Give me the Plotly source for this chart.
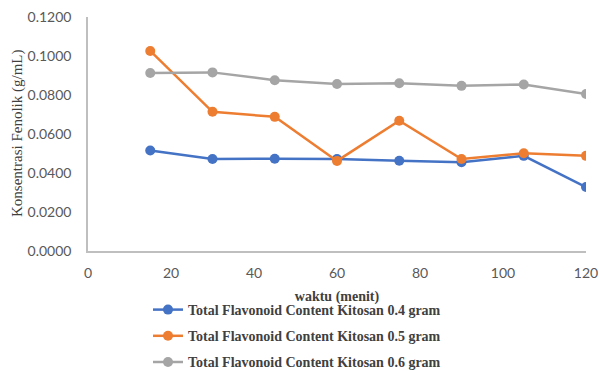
import plotly.graph_objects as go

# Sampling times (minutes)
waktu = [15, 30, 45, 60, 75, 90, 105, 120]

# Concentration series (g/mL)
kitosan_04 = [0.0515, 0.0472, 0.0473, 0.0472, 0.0463, 0.0455, 0.0488, 0.0328]
kitosan_05 = [0.1026, 0.0714, 0.0688, 0.0462, 0.0668, 0.0472, 0.0501, 0.0488]
kitosan_06 = [0.0913, 0.0916, 0.0876, 0.0856, 0.0860, 0.0847, 0.0854, 0.0805]

series_names = [
    "Total Flavonoid Content Kitosan 0.4 gram",
    "Total Flavonoid Content Kitosan 0.5 gram",
    "Total Flavonoid Content Kitosan 0.6 gram",
]
series_colors = ["#4472C4", "#ED7D31", "#A5A5A5"]
y_ticks = [0.0, 0.02, 0.04, 0.06, 0.08, 0.10, 0.12]
x_ticks = [0, 20, 40, 60, 80, 100, 120]
y_title = "Konsentrasi Fenolik (g/mL)"
x_title = "waktu (menit)"

fig = go.Figure()
for i, (name, values, color) in enumerate(zip(series_names, [kitosan_04, kitosan_05, kitosan_06], series_colors)):
    fig.add_trace(go.Scatter(
        x=waktu, y=values, name=name, mode="lines+markers",
        legendgroup=f"g{i}",
        line=dict(color=color, width=2.5),
        marker=dict(color=color, size=10),
    ))

tick_font = dict(family="Lato, Open Sans, sans-serif", size=14, color="#595959")
serif = "Liberation Serif, Times New Roman, serif"

W, H = 599, 371
L, R, T, B = 88, 13, 17, 120
fig.update_layout(
    width=W, height=H,
    margin=dict(l=L, r=R, t=T, b=B, autoexpand=False),
    paper_bgcolor="white", plot_bgcolor="white",
    showlegend=True,
    legend=dict(
        xref="container", yref="container",
        x=148 / W, y=1 - 294 / H, xanchor="left", yanchor="top",
        font=dict(family=serif, size=14, color="#404040", weight="bold"),
        bgcolor="rgba(0,0,0,0)",
        traceorder="grouped", tracegroupgap=5,
    ),
    xaxis=dict(
        range=[0, 120], tickvals=x_ticks, showgrid=False, zeroline=False,
        showline=True, linecolor="#BFBFBF", linewidth=1.5,
        ticks="outside", ticklen=8, tickcolor="white", tickfont=tick_font,
        title=dict(text=x_title, standoff=12,
                   font=dict(family=serif, size=14, color="#404040", weight="bold")),
    ),
    yaxis=dict(
        range=[0, 0.12], tickvals=y_ticks, tickformat=".4f", showgrid=False, zeroline=False,
        showline=True, linecolor="#BFBFBF", linewidth=1.5,
        ticks="outside", ticklen=12, tickcolor="white", tickfont=tick_font,
    ),
    annotations=[dict(
        text=y_title, textangle=-90, showarrow=False,
        xref="paper", yref="paper", x=(17 - L) / (W - L - R), y=0.5,
        xanchor="center", yanchor="middle",
        font=dict(family=serif, size=15, color="#404040"),
    )],
)

fig.write_html("out.html")
